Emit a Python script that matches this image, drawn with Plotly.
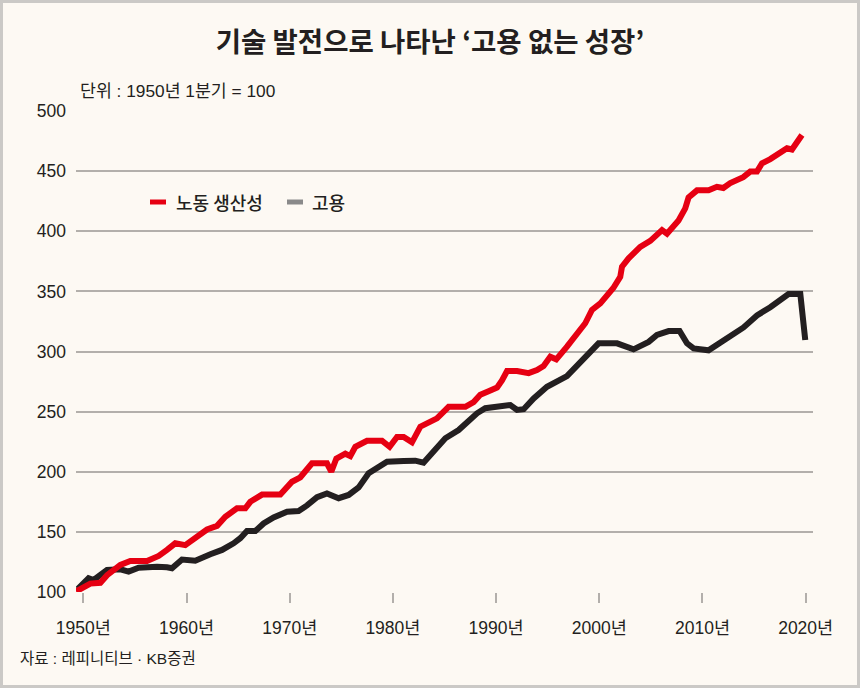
import plotly.graph_objects as go

# ---- data ----
prod_years = [1949.3, 1950.03, 1950.68, 1951.65, 1952.30, 1953.59, 1954.55, 1956.17, 1957.30, 1958.11,
              1958.91, 1959.88, 1960.69, 1961.99, 1962.96, 1963.76, 1964.89, 1965.70, 1966.18, 1967.32,
              1969.09, 1970.22, 1971.03, 1972.16, 1973.61, 1974.03, 1974.52, 1975.39, 1975.87, 1976.36,
              1977.49, 1978.94, 1979.68, 1980.40, 1981.04, 1981.85, 1982.66, 1983.62, 1984.27, 1985.40,
              1987.02, 1987.82, 1988.47, 1989.27, 1990.09, 1990.57, 1991.06, 1992.03, 1993.15, 1993.96,
              1994.60, 1995.25, 1995.83, 1996.87, 1998.16, 1998.64, 1999.29, 2000.10, 2001.36, 2002.03,
              2002.20, 2002.84, 2003.97, 2004.94, 2006.08, 2006.56, 2007.68, 2008.33, 2008.65, 2009.47,
              2010.59, 2011.40, 2012.02, 2012.69, 2013.95, 2014.63, 2015.28, 2015.77, 2016.57, 2017.37,
              2018.19, 2018.67, 2019.64]
prod_values = [100.5, 104, 107, 107.7, 114, 122.5, 125.8, 125.8, 130, 135,
               140.5, 139, 143.8, 152, 155, 162.6, 169.6, 169.6, 175, 181,
               181, 191.7, 195.4, 207, 207, 200, 211, 215, 213, 220.8,
               225.8, 225.8, 220.8, 229, 229, 224.5, 237.5, 242, 244.4, 254,
               254, 258, 264, 267, 270, 276, 283.8, 283.8, 282, 284.6,
               288, 295.7, 293.5, 304, 318, 323.5, 334.5, 340, 352.8, 362,
               370.5, 377.5, 387, 392, 401, 398, 409, 419, 428, 434,
               434, 437, 436, 440, 445, 449.6, 449.6, 456.5, 460, 465,
               469, 468, 480]

emp_years = [1949.45, 1950.51, 1951.0, 1952.30, 1953.59, 1954.39, 1955.36, 1956.49, 1957.14, 1958.11,
             1958.59, 1959.56, 1960.85, 1962.31, 1963.44, 1964.56, 1965.21, 1965.86, 1966.67, 1967.47,
             1968.44, 1969.74, 1970.86, 1971.68, 1972.65, 1973.61, 1974.74, 1975.71, 1976.68, 1977.65,
             1978.46, 1979.43, 1981.04, 1982.17, 1982.97, 1983.94, 1985.08, 1986.37, 1987.34, 1988.15,
             1988.95, 1990.09, 1991.38, 1992.03, 1992.67, 1993.64, 1994.93, 1996.87, 1998.32, 1999.93,
             2001.72, 2003.32, 2004.78, 2005.59, 2006.72, 2007.78, 2008.50, 2009.14, 2010.59, 2012.04,
             2013.98, 2015.28, 2016.57, 2018.34, 2019.48, 2019.96]
emp_values = [102.5, 111.4, 110, 118.3, 118.9, 117, 120.2, 121, 121, 120.5,
              119.7, 127, 126, 131.4, 135, 140.5, 144.7, 150.7, 150.7, 157,
              162, 166.8, 167.4, 172, 178.8, 182, 178, 180.7, 187, 198.7,
              202.9, 208.4, 209, 209.2, 207.5, 217, 227.8, 234.7, 243, 248.6,
              252.8, 254, 255.5, 251.4, 252, 261, 270.7, 279.6, 293, 306.8,
              306.8, 301.8, 308, 313.7, 317, 317, 306.8, 302.6, 301, 309.6,
              320, 330, 336.8, 347.8, 347.8, 309.6]

x_tick_vals = [1950, 1960, 1970, 1980, 1990, 2000, 2010, 2020]
x_tick_text = ["1950년", "1960년", "1970년", "1980년", "1990년", "2000년", "2010년", "2020년"]
y_tick_vals = [100, 150, 200, 250, 300, 350, 400, 450, 500]

series_names = ["노동 생산성", "고용"]
title_text = "기술 발전으로 나타난 ‘고용 없는 성장’"
unit_text = "단위 : 1950년 1분기 = 100"
source_text = "자료 : 레피니티브 · KB증권"

# ---- styling ----
RED = "#e60012"
BLACK = "#231f20"
LEGEND_GRAY = "#8a8a8a"
BG = "#fdf9f3"
GRID = "#b3afab"
NUM_FONT = "Liberation Sans, Arial, Noto Sans CJK KR, sans-serif"
KR_FONT = "Noto Sans CJK KR, sans-serif"

W, H = 860, 688
ML, MR, MT, MB = 76, 47, 111, 96
PW, PH = W - ML - MR, H - MT - MB


def px(x):
    return (x - ML) / PW


def py(y):
    return (H - MB - y) / PH


fig = go.Figure()
fig.add_trace(go.Scatter(x=emp_years, y=emp_values, mode="lines", name=series_names[1],
                         line=dict(color=BLACK, width=6, shape="linear"), showlegend=False))
fig.add_trace(go.Scatter(x=prod_years, y=prod_values, mode="lines", name=series_names[0],
                         line=dict(color=RED, width=6, shape="linear"), showlegend=False))

shapes = [
    # frame
    dict(type="rect", xref="paper", yref="paper",
         x0=px(1.5), x1=px(W - 1.5), y0=py(H - 1.5), y1=py(1.5),
         line=dict(color="#cbc9c6", width=3), fillcolor="rgba(0,0,0,0)", layer="above"),
    # legend swatches
    dict(type="line", xref="paper", yref="paper", x0=px(150), x1=px(166), y0=py(202), y1=py(202),
         line=dict(color=RED, width=5)),
    dict(type="line", xref="paper", yref="paper", x0=px(287), x1=px(303), y0=py(202), y1=py(202),
         line=dict(color=LEGEND_GRAY, width=5)),
]

annotations = [
    dict(text=series_names[0], xref="paper", yref="paper", x=px(174), y=py(202),
         xanchor="left", yanchor="middle", showarrow=False,
         font=dict(family=KR_FONT, size=18, color="#231f20", weight=500)),
    dict(text=series_names[1], xref="paper", yref="paper", x=px(310), y=py(202),
         xanchor="left", yanchor="middle", showarrow=False,
         font=dict(family=KR_FONT, size=18, color="#231f20", weight=500)),
    dict(text=unit_text, xref="paper", yref="paper", x=px(78), y=py(91),
         xanchor="left", yanchor="middle", showarrow=False,
         font=dict(family=NUM_FONT, size=17.3, color="#231f20")),
    dict(text=source_text, xref="paper", yref="paper", x=px(18), y=py(658),
         xanchor="left", yanchor="middle", showarrow=False,
         font=dict(family=NUM_FONT, size=15.5, color="#231f20")),
]

fig.update_layout(
    width=W, height=H,
    margin=dict(l=ML, r=MR, t=MT, b=MB, pad=0),
    paper_bgcolor=BG, plot_bgcolor=BG,
    title=dict(text=title_text, x=0.5, xref="container", xanchor="center",
               y=1 - 42 / H, yref="container", yanchor="middle",
               font=dict(family=KR_FONT, size=27.5, color="#231f20", weight="bold")),
    shapes=shapes, annotations=annotations,
    showlegend=False,
    xaxis=dict(range=[1949.29, 2020.71], tickvals=x_tick_vals, ticktext=x_tick_text,
               showgrid=False, zeroline=False, showline=False,
               ticks="outside", ticklen=10, tickwidth=1.5, tickcolor=GRID,
               ticklabelstandoff=10,
               tickfont=dict(family=NUM_FONT, size=17.5, color="#231f20"), fixedrange=True),
    yaxis=dict(range=[100, 500], tickvals=y_tick_vals,
               showgrid=True, gridcolor=GRID, gridwidth=1.5, zeroline=False, showline=False,
               ticks="", ticklabelstandoff=9,
               tickfont=dict(family=NUM_FONT, size=17.5, color="#231f20"), fixedrange=True),
)

fig.write_html("out.html", config={"displayModeBar": False},
               post_script="document.body.style.margin='0';document.body.style.padding='0';"
                           "document.body.style.overflow='hidden';")
